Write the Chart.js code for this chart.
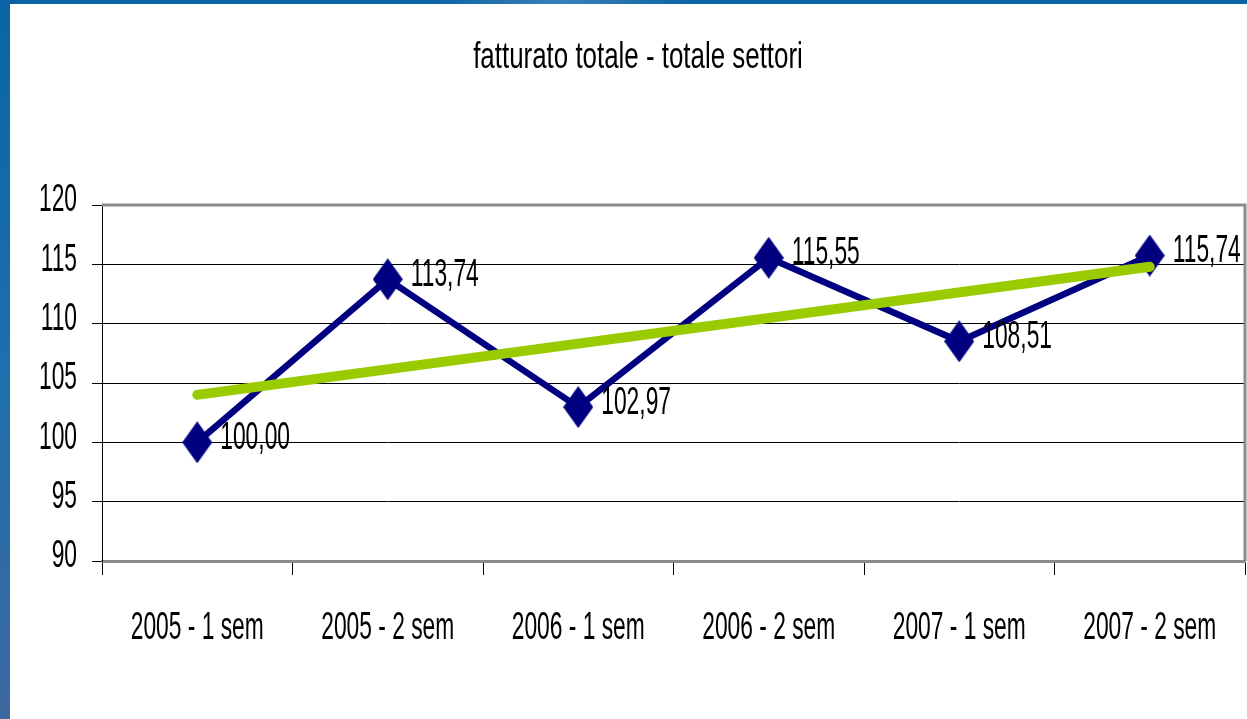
<!DOCTYPE html>
<html lang="it">
<head>
    <meta charset="UTF-8">
    <title>fatturato totale - totale settori</title>
    <script src="https://cdn.jsdelivr.net/npm/chart.js@4.4.1/dist/chart.umd.min.js"></script>
    <style>
        html, body { margin: 0; padding: 0; background: #fff; overflow: hidden; }
        #wrap { position: relative; width: 1247px; height: 719px; }
        #chart { position: absolute; left: 0; top: 0; }
        .edgeLeft { position: absolute; left: 0; top: 0; width: 10px; height: 719px;
            background: linear-gradient(#0a64a4, #1c70ad 50%, #3d68a0); }
        .edgeTop { position: absolute; left: 0; top: 0; width: 1247px; height: 4px;
            background: linear-gradient(90deg, #0a64a4, #0d66a5 35%, #3a7fb8 45%, #0d66a5 55%, #0a64a4); }
    </style>
</head>
<body>
<div id="wrap">
    <canvas id="chart" width="1247" height="719"></canvas>
    <div class="edgeLeft"></div>
    <div class="edgeTop"></div>
</div>
<script>
    // data
    const title = 'fatturato totale - totale settori';
    const semesters = ['2005 - 1 sem', '2005 - 2 sem', '2006 - 1 sem', '2006 - 2 sem', '2007 - 1 sem', '2007 - 2 sem'];
    const fatturato = [100.00, 113.74, 102.97, 115.55, 108.51, 115.74];
    // linear trend line: only the two ends are drawn
    const trend = [104.0, null, null, null, null, 114.8];
    const yTicks = [90, 95, 100, 105, 110, 115, 120];

    const FONT = "'Liberation Sans', Arial, sans-serif";
    const NAVY = '#000080';
    const GREEN = '#99cc00';
    const SQUEEZE = 0.6;   // the original uses a very condensed face

    // tall diamond marker
    function makeDiamond(w, h) {
        const c = document.createElement('canvas');
        c.width = w; c.height = h;
        const g = c.getContext('2d');
        g.fillStyle = NAVY;
        g.beginPath();
        g.moveTo(w / 2, 0);
        g.lineTo(w, h / 2);
        g.lineTo(w / 2, h);
        g.lineTo(0, h / 2);
        g.closePath();
        g.fill();
        return c;
    }
    const diamond = makeDiamond(30, 42);

    function squeezedText(ctx, text, x, y, align, size, sx) {
        ctx.save();
        ctx.font = size + 'px ' + FONT;
        ctx.fillStyle = '#000';
        ctx.textAlign = align;
        ctx.textBaseline = 'middle';
        ctx.translate(x, y);
        ctx.scale(sx, 1);
        ctx.fillText(text, 0, 0);
        ctx.restore();
    }

    // grey frame on top and right side of the plot
    const framePlugin = {
        id: 'frame',
        beforeDatasetsDraw(chart) {
            const { ctx, chartArea: a } = chart;
            ctx.save();
            ctx.strokeStyle = '#8c8c8c';
            ctx.lineWidth = 3;
            ctx.beginPath();
            ctx.moveTo(a.left, a.top);
            ctx.lineTo(a.right, a.top);
            ctx.lineTo(a.right, a.bottom);
            ctx.stroke();
            ctx.restore();
        }
    };

    // title, tick labels and value labels in the condensed look
    const textPlugin = {
        id: 'texts',
        afterDraw(chart) {
            const { ctx, scales } = chart;
            squeezedText(ctx, title, 638, 58, 'center', 37, 0.7);
            yTicks.forEach(v => {
                squeezedText(ctx, String(v), 77, scales.y.getPixelForValue(v) - 4, 'right', 38, SQUEEZE);
            });
            semesters.forEach((s, i) => {
                squeezedText(ctx, s, scales.x.getPixelForValue(i), 629, 'center', 38, SQUEEZE);
            });
            chart.getDatasetMeta(1).data.forEach((pt, i) => {
                const txt = fatturato[i].toFixed(2).replace('.', ',');
                squeezedText(ctx, txt, pt.x + 23, pt.y - 4, 'left', 38, SQUEEZE);
            });
        }
    };

    new Chart(document.getElementById('chart'), {
        type: 'line',
        data: {
            labels: semesters,
            datasets: [{
                label: 'tendenza',
                data: trend,
                borderColor: GREEN,
                borderWidth: 10,
                borderCapStyle: 'round',
                pointRadius: 0,
                spanGaps: true,
                order: 0
            }, {
                label: 'fatturato totale',
                data: fatturato,
                borderColor: NAVY,
                backgroundColor: NAVY,
                borderWidth: 6.5,
                tension: 0,
                pointStyle: diamond,
                order: 1
            }]
        },
        options: {
            responsive: false,
            animation: false,
            devicePixelRatio: 1,
            layout: { autoPadding: false, padding: { left: 0, right: 2, top: 205, bottom: 0 } },
            plugins: {
                legend: { display: false },
                tooltip: { enabled: false },
                title: { display: false }
            },
            scales: {
                x: {
                    offset: true,
                    afterFit(scale) {
                        scale.height = 158;
                        scale.paddingLeft = 0;
                        scale.paddingRight = 0;
                    },
                    border: { color: '#8c8c8c', width: 3 },
                    grid: { offset: true, drawOnChartArea: false, drawTicks: true, tickLength: 14, color: '#000' },
                    ticks: { display: false }
                },
                y: {
                    min: 90,
                    max: 120,
                    afterFit(scale) {
                        scale.width = 102;
                        scale.paddingTop = 0;
                        scale.paddingBottom = 0;
                    },
                    afterBuildTicks(scale) { scale.ticks = yTicks.map(v => ({ value: v })); },
                    border: { color: '#000', width: 1 },
                    grid: { color: '#000', lineWidth: 1, tickLength: 10 },
                    ticks: { display: false }
                }
            }
        },
        plugins: [framePlugin, textPlugin]
    });
</script>
</body>
</html>
